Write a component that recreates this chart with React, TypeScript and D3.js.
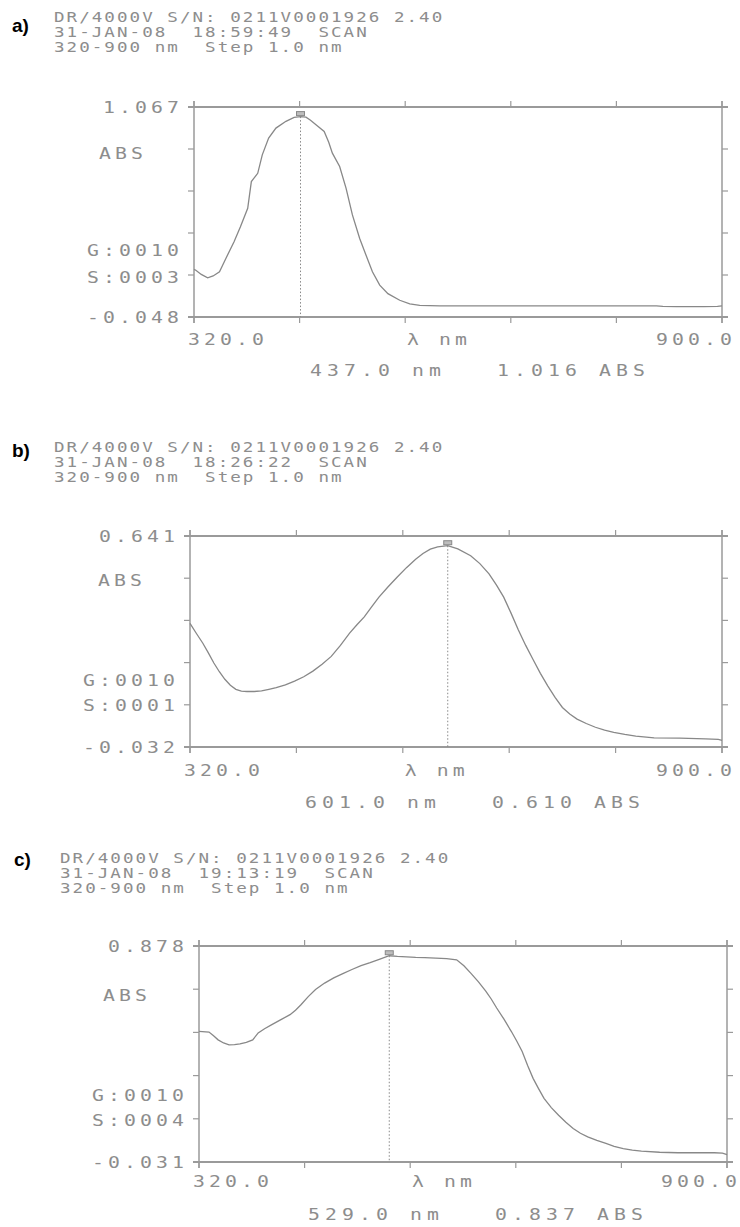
import React from "react";
import * as d3 from "d3";

// ---------- data ----------
const WL_MIN = 320;
const WL_MAX = 900;
const xStartLabel = "320.0";
const xEndLabel = "900.0";
const xAxisTitle = "λ nm";
const instrumentLine = "DR/4000V S/N: 0211V0001926 2.40";
const rangeLine = "320-900 nm  Step 1.0 nm";
const panelTags = ["a)", "b)", "c)"];
const scanTimes = ["31-JAN-08  18:59:49  SCAN", "31-JAN-08  18:26:22  SCAN", "31-JAN-08  19:13:19  SCAN"];
const yMaxValues = [1.067, 0.641, 0.878];
const yMinValues = [-0.048, -0.032, -0.031];
const yTopLabels = ["1.067", "0.641", "0.878"];
const yBottomLabels = ["-0.048", "-0.032", "-0.031"];
const gainLabels = ["G:0010", "G:0010", "G:0010"];
const stepLabels = ["S:0003", "S:0001", "S:0004"];
const peakWl = [437.0, 601.0, 529.0];
const peakAbs = [1.016, 0.61, 0.837];

const aWl = [320, 322, 328, 335, 341, 348, 355, 364, 371, 379, 381, 383, 390, 395, 402, 410, 421, 430, 437, 443, 448, 454, 463, 468, 472, 480, 487, 494, 502, 509, 516, 524, 533, 546, 557, 568, 590, 700, 828, 835, 850, 880, 895, 900];
const aAbs = [0.205, 0.2, 0.178, 0.16, 0.17, 0.192, 0.263, 0.351, 0.431, 0.529, 0.6, 0.671, 0.715, 0.813, 0.902, 0.955, 0.991, 1.012, 1.016, 1.013, 0.997, 0.973, 0.937, 0.88, 0.822, 0.751, 0.636, 0.494, 0.369, 0.28, 0.192, 0.121, 0.076, 0.041, 0.022, 0.014, 0.011, 0.011, 0.011, 0.008, 0.007, 0.007, 0.008, 0.011];

const bWl = [320, 327, 334, 340, 346, 352, 358, 364, 370, 376, 382, 390, 398, 406, 414, 424, 434, 444, 454, 464, 474, 484, 494, 502, 510, 518, 526, 536, 546, 556, 566, 574, 582, 590, 601, 612, 626, 636, 646, 654, 662, 670, 678, 686, 694, 702, 710, 718, 726, 734, 742, 752, 762, 772, 782, 794, 806, 826, 854, 882, 896, 900];
const bAbs = [0.362, 0.33, 0.299, 0.268, 0.236, 0.208, 0.184, 0.165, 0.152, 0.146, 0.145, 0.145, 0.147, 0.152, 0.157, 0.166, 0.178, 0.192, 0.21, 0.232, 0.257, 0.292, 0.331, 0.358, 0.383, 0.415, 0.446, 0.479, 0.51, 0.54, 0.567, 0.585, 0.599, 0.606, 0.61, 0.6, 0.578, 0.553, 0.52, 0.485, 0.446, 0.395, 0.341, 0.292, 0.247, 0.203, 0.163, 0.126, 0.094, 0.073, 0.057, 0.043, 0.031, 0.022, 0.015, 0.008, 0.003, -0.003, -0.004, -0.006, -0.008, -0.011];

const cWl = [320, 331, 336, 341, 347, 353, 359, 365, 372, 379, 385, 392, 400, 410, 420, 426, 432, 440, 448, 458, 468, 478, 488, 498, 508, 518, 529, 538, 548, 558, 568, 580, 592, 603, 611, 619, 627, 635, 641, 647, 655, 663, 669, 675, 681, 687, 693, 699, 707, 715, 723, 731, 739, 747, 757, 767, 776, 786, 796, 806, 826, 846, 886, 895, 900];
const cAbs = [0.519, 0.516, 0.5, 0.483, 0.47, 0.462, 0.463, 0.466, 0.472, 0.483, 0.512, 0.53, 0.547, 0.568, 0.589, 0.608, 0.631, 0.665, 0.695, 0.722, 0.744, 0.762, 0.779, 0.795, 0.808, 0.822, 0.837, 0.834, 0.832, 0.83, 0.829, 0.827, 0.825, 0.82, 0.795, 0.762, 0.727, 0.688, 0.655, 0.617, 0.57, 0.519, 0.478, 0.434, 0.375, 0.321, 0.278, 0.237, 0.198, 0.166, 0.136, 0.11, 0.09, 0.075, 0.06, 0.047, 0.035, 0.025, 0.019, 0.015, 0.01, 0.008, 0.008, 0.006, 0.0];

const seriesWl = [aWl, bWl, cWl];
const seriesAbs = [aAbs, bAbs, cAbs];

// ---------- layout (positions / styles) ----------
const layouts = [
  { tagY: 26, tagX: 12, headX: 54, headY: [17, 32, 47], x0: 194, x1: 722, y0: 107, y1: 317, absX: 99, absY: 153, gY: 250, sY: 277, xLabY: 339, readY: 370, readX: 310 },
  { tagY: 451, tagX: 12, headX: 54, headY: [447, 462, 477], x0: 190, x1: 722, y0: 536, y1: 747, absX: 98, absY: 580, gY: 680, sY: 705, xLabY: 770, readY: 802, readX: 305 },
  { tagY: 860, tagX: 14, headX: 60, headY: [858, 873, 888], x0: 199, x1: 727, y0: 946, y1: 1162, absX: 103, absY: 995, gY: 1095, sY: 1120, xLabY: 1181, readY: 1214, readX: 308 },
];

const TEXT = "#8d8d8d";
const LINE = "#9a9a9a";
const CURVE = "#888888";
const MONO = "'DejaVu Sans Mono', 'Liberation Mono', monospace";

const HEAD_FS = 13.5;
const HEAD_CELL = 12.6;
const HEAD_SX = 1.3;
const LAB_FS = 16.5;
const LAB_CELL = 16;
const LAB_SX = 1.2;
const READ_CELL = 17;

function Txt(props: { x: number; y: number; text: string; fs: number; cell: number; sx: number; anchor?: string; fill?: string }) {
  const { x, y, text, fs, cell, sx: k, anchor = "start", fill = TEXT } = props;
  const adv = fs * 0.602 * k;
  const ls = cell - adv;
  const by = y + fs * 0.36;
  const w = text.length * cell - ls;
  let px = x;
  if (anchor === "end") px = x - w;
  if (anchor === "middle") px = x - w / 2;
  return (
    <g transform={`translate(${px},${by}) scale(${k},1)`}>
      <text x={0} y={0} fontFamily={MONO} fontSize={fs} letterSpacing={ls / k} fill={fill} style={{ whiteSpace: "pre" }}>
        {text}
      </text>
    </g>
  );
}

function Panel({ i }: { i: number }) {
  const L = layouts[i];
  const x = d3.scaleLinear().domain([WL_MIN, WL_MAX]).range([L.x0, L.x1]);
  const y = d3.scaleLinear().domain([yMinValues[i], yMaxValues[i]]).range([L.y1, L.y0]);
  const pts = seriesWl[i].map((w, k) => [w, seriesAbs[i][k]] as [number, number]);
  const line = d3
    .line<[number, number]>()
    .x((d) => x(d[0]))
    .y((d) => y(d[1]))
    .curve(d3.curveLinear);
  const xt = d3.range(6).map((k) => WL_MIN + (k * (WL_MAX - WL_MIN)) / 5);
  const yt = d3.range(6).map((k) => yMinValues[i] + (k * (yMaxValues[i] - yMinValues[i])) / 5);
  const T = 6;
  const px = x(peakWl[i]);
  const py = y(peakAbs[i]);
  const readout = `${peakWl[i].toFixed(1)} nm   ${peakAbs[i].toFixed(3)} ABS`;
  const lab = { fs: LAB_FS, cell: LAB_CELL, sx: LAB_SX };
  const head = { fs: HEAD_FS, cell: HEAD_CELL, sx: HEAD_SX };
  return (
    <g>
      <text x={L.tagX} y={L.tagY + 6} fontFamily="'Liberation Sans', Arial, sans-serif" fontWeight="bold" fontSize={19} fill="#000">
        {panelTags[i]}
      </text>
      <Txt x={L.headX} y={L.headY[0]} text={instrumentLine} {...head} />
      <Txt x={L.headX} y={L.headY[1]} text={scanTimes[i]} {...head} />
      <Txt x={L.headX} y={L.headY[2]} text={rangeLine} {...head} />

      {/* frame */}
      <g stroke={LINE} fill="none">
        <line x1={L.x0 - T} x2={L.x1 + T} y1={L.y0} y2={L.y0} strokeWidth={2} />
        <line x1={L.x0 - T} x2={L.x1 + T} y1={L.y1} y2={L.y1} strokeWidth={2} />
        <line x1={L.x0} x2={L.x0} y1={L.y0 - T} y2={L.y1 + T} strokeWidth={1.5} />
        <line x1={L.x1} x2={L.x1} y1={L.y0 - T} y2={L.y1 + T} strokeWidth={1.5} />
      </g>
      <g stroke={LINE} strokeWidth={1.2}>
        {xt.map((v, k) => (
          <g key={"xt" + k}>
            <line x1={x(v)} x2={x(v)} y1={L.y0} y2={L.y0 - T} />
            <line x1={x(v)} x2={x(v)} y1={L.y1} y2={L.y1 + T} />
          </g>
        ))}
        {yt.map((v, k) => (
          <g key={"yt" + k}>
            <line x1={L.x0} x2={L.x0 - T} y1={y(v)} y2={y(v)} />
            <line x1={L.x1} x2={L.x1 + T} y1={y(v)} y2={y(v)} />
          </g>
        ))}
      </g>

      {/* peak marker */}
      <line x1={px} x2={px} y1={py} y2={L.y1} stroke={CURVE} strokeWidth={1} strokeDasharray="1.5,2" />
      <rect x={px - 4} y={py - 5} width={8} height={4} fill="#bdbdbd" stroke={CURVE} strokeWidth={1} />

      {/* curve */}
      <path d={line(pts) || ""} fill="none" stroke={CURVE} strokeWidth={1.3} />

      {/* y labels */}
      <Txt x={L.x0 - 15} y={L.y0} text={yTopLabels[i]} {...lab} anchor="end" />
      <Txt x={L.absX} y={L.absY} text="ABS" {...lab} />
      <Txt x={L.x0 - 15} y={L.gY} text={gainLabels[i]} {...lab} anchor="end" />
      <Txt x={L.x0 - 15} y={L.sY} text={stepLabels[i]} {...lab} anchor="end" />
      <Txt x={L.x0 - 15} y={L.y1} text={yBottomLabels[i]} {...lab} anchor="end" />

      {/* x labels */}
      <Txt x={L.x0 - 6} y={L.xLabY} text={xStartLabel} {...lab} />
      <Txt x={L.x0 + (L.x1 - L.x0) * 0.46} y={L.xLabY} text={xAxisTitle} {...lab} anchor="middle" />
      <Txt x={L.x1 + 10} y={L.xLabY} text={xEndLabel} {...lab} anchor="end" />

      <Txt x={L.readX} y={L.readY} text={readout} fs={LAB_FS} cell={READ_CELL} sx={LAB_SX} />
    </g>
  );
}

export default function App() {
  return (
    <svg width={740} height={1227} style={{ position: "absolute", left: 0, top: 0, background: "#fff" }}>
      <rect x={0} y={0} width={740} height={1227} fill="#fff" />
      {[0, 1, 2].map((i) => (
        <Panel key={i} i={i} />
      ))}
    </svg>
  );
}
